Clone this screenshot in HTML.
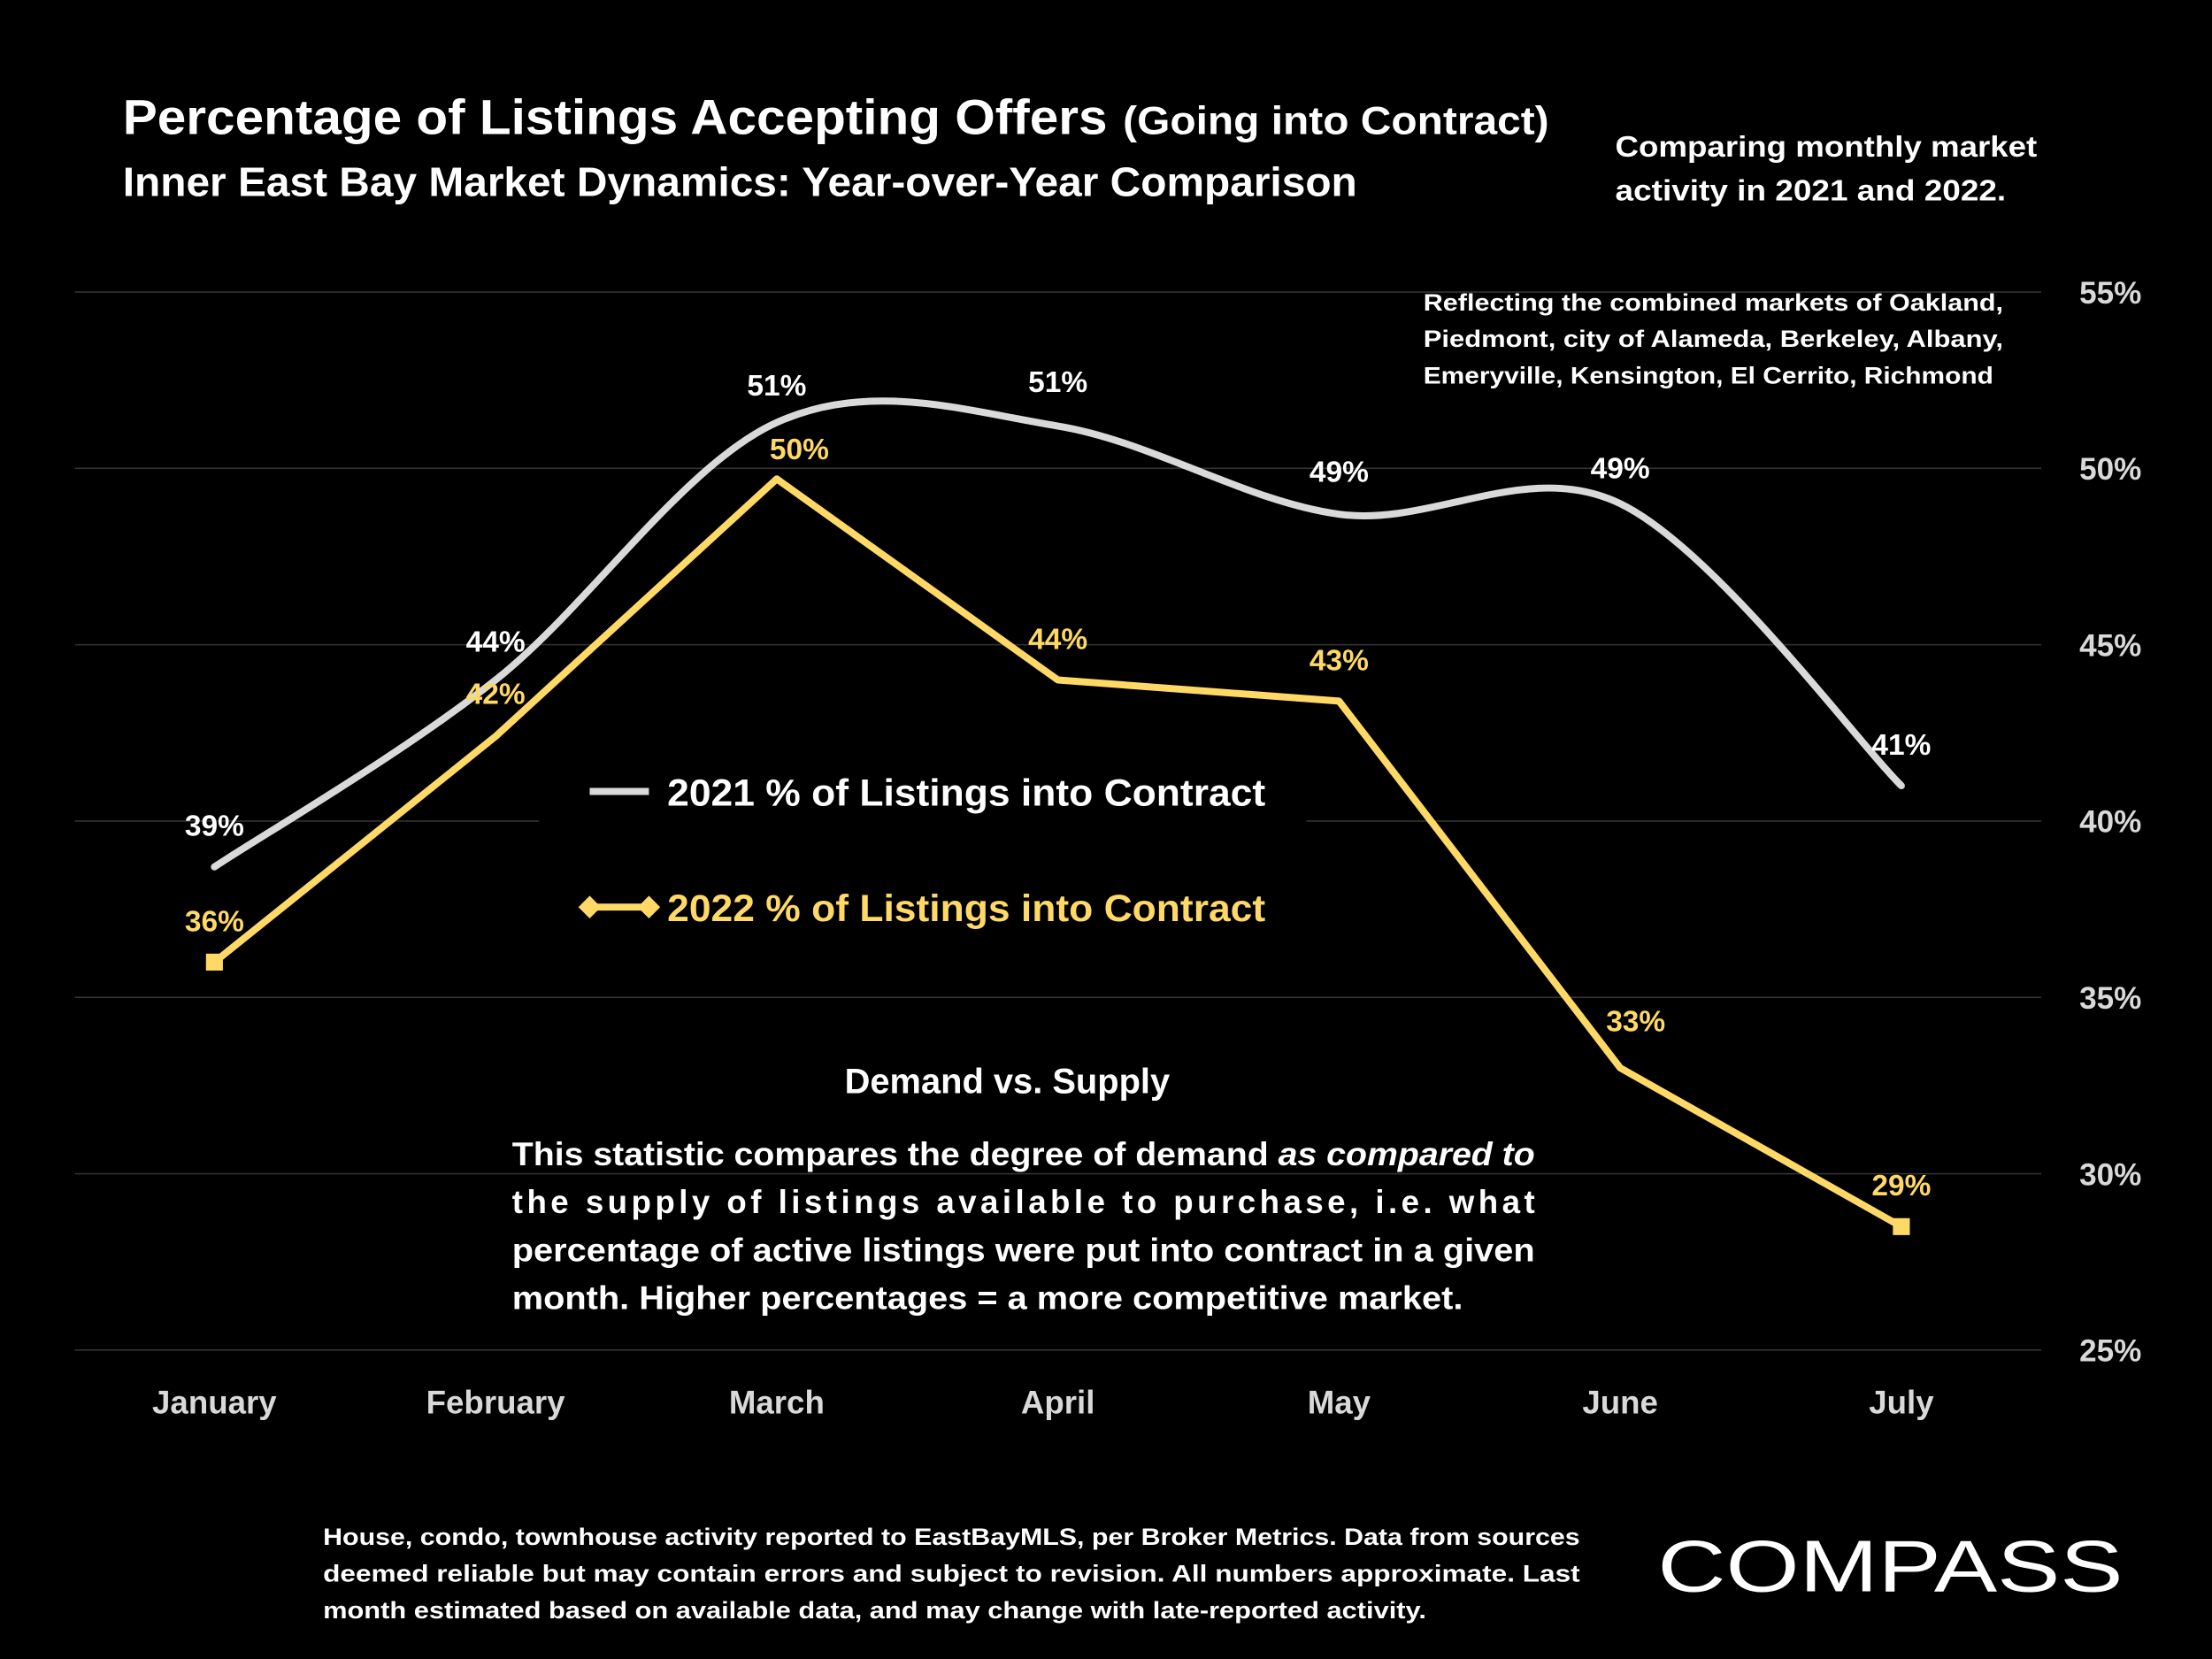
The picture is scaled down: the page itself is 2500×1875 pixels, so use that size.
<!DOCTYPE html>
<html><head><meta charset="utf-8"><style>
html,body{margin:0;padding:0;background:#000;}
svg{display:block;}
text{font-family:"Liberation Sans",sans-serif;font-weight:bold;}
</style></head><body>
<svg id="chart" width="2500" height="1875" viewBox="0 0 1568 1176" preserveAspectRatio="none" xmlns="http://www.w3.org/2000/svg">
<rect width="1568" height="1176" fill="#000"/>
<g id="grid"></g>
<g id="yticks"></g>
<g id="xticks"></g>
<rect x="382" y="530" width="544" height="140" fill="#000"/>
<g id="series"></g>
<g id="labels"></g>

<text x="87" y="95" fill="#fff" font-size="35" textLength="698" lengthAdjust="spacingAndGlyphs">Percentage of Listings Accepting Offers</text>
<text x="796" y="95" fill="#fff" font-size="28" textLength="302" lengthAdjust="spacingAndGlyphs">(Going into Contract)</text>
<text x="87" y="139" fill="#fff" font-size="29" textLength="875" lengthAdjust="spacingAndGlyphs">Inner East Bay Market Dynamics: Year-over-Year Comparison</text>
<text x="1145" y="111" fill="#fff" font-size="21" textLength="299" lengthAdjust="spacingAndGlyphs">Comparing monthly market</text>
<text x="1145" y="142" fill="#fff" font-size="21" textLength="277" lengthAdjust="spacingAndGlyphs">activity in 2021 and 2022.</text>
<text x="1009" y="220" fill="#fff" font-size="17" textLength="411" lengthAdjust="spacingAndGlyphs">Reflecting the combined markets of Oakland,</text>
<text x="1009" y="246" fill="#fff" font-size="17" textLength="411" lengthAdjust="spacingAndGlyphs">Piedmont, city of Alameda, Berkeley, Albany,</text>
<text x="1009" y="272" fill="#fff" font-size="17" textLength="404" lengthAdjust="spacingAndGlyphs">Emeryville, Kensington, El Cerrito, Richmond</text>

<g>
<line x1="418" y1="561" x2="460" y2="561" stroke="#d9d9d9" stroke-width="5"/>
<text x="473" y="571" fill="#fff" font-size="27" textLength="424" lengthAdjust="spacingAndGlyphs">2021 % of Listings into Contract</text>
</g>
<g>
<line x1="418" y1="643" x2="460" y2="643" stroke="#ffd966" stroke-width="5"/>
<path d="M418 635 L426 643 L418 651 L410 643Z M460 635 L468 643 L460 651 L452 643Z" fill="#ffd966"/>
<text x="473" y="653" fill="#ffd966" font-size="27" textLength="424" lengthAdjust="spacingAndGlyphs">2022 % of Listings into Contract</text>
</g>

<text x="714" y="775" fill="#fff" font-size="25" text-anchor="middle">Demand vs. Supply</text>
<g fill="#fff" font-size="23">
<text x="363" y="826" textLength="725" lengthAdjust="spacingAndGlyphs">This statistic compares the degree of demand <tspan font-style="italic">as compared to</tspan></text>
<text x="363" y="860" textLength="725" lengthAdjust="spacing">the supply of listings available to purchase, i.e. what</text>
<text x="363" y="894" textLength="725" lengthAdjust="spacingAndGlyphs">percentage of active listings were put into contract in a given</text>
<text x="363" y="928" textLength="674" lengthAdjust="spacingAndGlyphs">month. Higher percentages = a more competitive market.</text>
</g>

<g fill="#fff" font-size="17">
<text x="229" y="1095" textLength="891" lengthAdjust="spacingAndGlyphs">House, condo, townhouse activity reported to EastBayMLS, per Broker Metrics. Data from sources</text>
<text x="229" y="1121" textLength="891" lengthAdjust="spacingAndGlyphs">deemed reliable but may contain errors and subject to revision. All numbers approximate. Last</text>
<text x="229" y="1147" textLength="782" lengthAdjust="spacingAndGlyphs">month estimated based on available data, and may change with late-reported activity.</text>
</g>
<text x="1175" y="1128" fill="#fff" font-size="52" font-weight="normal" textLength="330" lengthAdjust="spacingAndGlyphs" style="font-weight:normal">COMPASS</text>
</svg>
<script>
const months = ["January","February","March","April","May","June","July"];
const yTicks = [25,30,35,40,45,50,55];
const values2021 = [38.7,44.0,51.3,51.2,48.7,49.0,41.0];
const values2022 = [36.0,42.4,49.7,44.0,43.4,33.0,28.5];
const labels2021 = ["39%","44%","51%","51%","49%","49%","41%"];
const labels2022 = ["36%","42%","50%","44%","43%","33%","29%"];

const NS="http://www.w3.org/2000/svg";
const X0=152, DX=199.3, Y55=207, PXPER=25;
function xs(i){return X0+i*DX;}
function ys(v){return Y55+(55-v)*PXPER;}
function mk(tag,attrs,parent){const e=document.createElementNS(NS,tag);for(const k in attrs)e.setAttribute(k,attrs[k]);parent.appendChild(e);return e;}

const grid=document.getElementById('grid'), yt=document.getElementById('yticks'), xt=document.getElementById('xticks');
yTicks.forEach(t=>{
  const l=mk('line',{x1:53,x2:1447,y1:ys(t),y2:ys(t),stroke:'#333','stroke-width':1},grid);
  
  
  const tx=mk('text',{x:1518,y:ys(t)+8,fill:'#d9d9d9','font-size':22,'text-anchor':'end'},yt);
  tx.textContent=t+'%';
  
  
});
months.forEach((m,i)=>{
  const tx=mk('text',{x:xs(i),y:1002,fill:'#d9d9d9','font-size':23,'text-anchor':'middle'},xt);
  tx.textContent=m;
  
  
});

const ser=document.getElementById('series');
// smooth 2021
const p=values2021.map((v,i)=>[xs(i),ys(v)]);
let d='M'+p[0][0]+' '+p[0][1];
for(let i=0;i<p.length-1;i++){
  const p0=p[Math.max(0,i-1)],p1=p[i],p2=p[i+1],p3=p[Math.min(p.length-1,i+2)];
  const c1=[p1[0]+(p2[0]-p0[0])/6,p1[1]+(p2[1]-p0[1])/6];
  const c2=[p2[0]-(p3[0]-p1[0])/6,p2[1]-(p3[1]-p1[1])/6];
  d+=` C${c1[0]} ${c1[1]} ${c2[0]} ${c2[1]} ${p2[0]} ${p2[1]}`;
}
const s1=mk('path',{d:d,fill:'none',stroke:'#d9d9d9','stroke-width':5,'stroke-linecap':'round'},ser);


const s2=mk('polyline',{points:values2022.map((v,i)=>xs(i)+','+ys(v)).join(' '),fill:'none',stroke:'#ffd966','stroke-width':5,'stroke-linejoin':'round'},ser);


[0,values2022.length-1].forEach(i=>{
  const r=mk('rect',{x:xs(i)-6,y:ys(values2022[i])-6,width:12,height:12,fill:'#ffd966'},ser);
  
  
});

const lab=document.getElementById('labels');
const off21=[-22,-20,-19,-24,-23,-18,-22];
const off22=[-22,-23,-14,-22,-22,-26,-22];
const dx22=[0,0,16,0,0,11,0];
values2021.forEach((v,i)=>{
  const t=mk('text',{x:xs(i),y:ys(v)+off21[i],fill:'#fff','font-size':21,'text-anchor':'middle'},lab);
  t.textContent=labels2021[i];
  
  
});
values2022.forEach((v,i)=>{
  const t=mk('text',{x:xs(i)+dx22[i],y:ys(v)+off22[i],fill:'#ffd966','font-size':21,'text-anchor':'middle'},lab);
  t.textContent=labels2022[i];
  
  
});
</script>
</body></html>
